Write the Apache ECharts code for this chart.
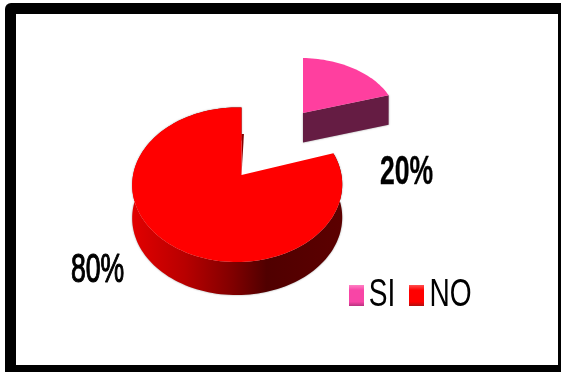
<!DOCTYPE html>
<html>
<head>
<meta charset="utf-8">
<style>html,body{margin:0;padding:0;background:#fff}#chart{width:561px;height:372px}</style>
<script src="https://cdn.jsdelivr.net/npm/echarts@6/dist/echarts.min.js"></script>
</head>
<body>
<div id="chart"></div>
<script>
// Survey answers, as a share of respondents
const categories = ['SI', 'NO'];
const shares = [20, 80];
const colorsTop = ['#FF3F9F', '#FF0000'];

const total = shares.reduce((a, b) => a + b, 0);

// Perspective tilt of the disc
const TILT_FAR = 0.1263, TILT_SIDE = 0.0406;

// Per-slice layout: apex on screen, half-axes, wall depth, label and legend text placement
const layout = {
  SI: { cx: 303, cy: 113, bx: 97, by: 62, depth: 29.5, label: [406.5, 173], weight: 'bold', stroke: 0.3, key: [382, 295] },
  NO: { cx: 241.5, cy: 175, bx: 104, by: 76, depth: 33, label: [97.5, 271], weight: 'normal', stroke: 1.1, key: [450.5, 295] }
};

function project(g, r, deg, drop) {
  const t = deg * Math.PI / 180;
  const u = r * Math.sin(t), v = r * Math.cos(t);
  const w = 1 + TILT_FAR * v + TILT_SIDE * u;
  return [g.cx + g.bx * u / w, g.cy - g.by * v / w + (drop || 0)];
}

function arc(g, from, to, drop) {
  const pts = [];
  const n = Math.ceil(Math.abs(to - from) / 2);
  for (let i = 0; i <= n; i++) pts.push(project(g, 1, from + (to - from) * i / n, drop));
  return pts;
}

const edgeShadow = { shadowBlur: 2, shadowColor: 'rgba(0,0,0,0.4)' };

function polygon(points, fill, extra) {
  return { type: 'polygon', shape: { points }, style: Object.assign({ fill }, extra || {}) };
}

function scaledText(text, pos, scaleX, scaleY, size, weight, stroke) {
  return {
    type: 'text', x: pos[0], y: pos[1], scaleX, scaleY,
    style: {
      text, fontFamily: 'Liberation Sans', fontWeight: weight, fontSize: size,
      fill: '#000', stroke: '#000', lineWidth: stroke, align: 'center', verticalAlign: 'middle'
    }
  };
}

function sliceRenderer(name, startShare) {
  return function (params, api) {
    const g = layout[name];
    const from = startShare / total * 360;
    const to = from + api.value(0) / total * 360;
    const apex = project(g, 0, 0);
    const top = [apex].concat(arc(g, from, to));
    const children = [];
    if (name === 'SI') {
      // Only the cut face toward the viewer shows on the detached slice
      const corner = project(g, 1, to);
      children.push(polygon([apex, corner, project(g, 1, to, g.depth), project(g, 0, 0, g.depth)], '#651C43', edgeShadow));
    } else {
      // Outer wall, lit from the left
      const upper = arc(g, from, to);
      const lower = arc(g, to, from, g.depth);
      children.push(polygon(upper.concat(lower), {
        type: 'linear', x: 0, y: 0, x2: 1, y2: 0,
        colorStops: [
          { offset: 0, color: '#E20000' },
          { offset: 0.25, color: '#B80000' },
          { offset: 0.48, color: '#800000' },
          { offset: 0.64, color: '#500000' },
          { offset: 1, color: '#5C0000' }
        ]
      }, edgeShadow));
      // Sliver of the inner wall along the notch
      children.push(polygon([apex, project(g, 0.58, to), project(g, 0.58, to + 2.5)], '#8A0000'));
    }
    children.push(polygon(top, colorsTop[categories.indexOf(name)]));
    children.push(scaledText(Math.round(api.value(0) / total * 100) + '%', g.label, 0.7, 1.09, 38, g.weight, g.stroke));
    children.push(scaledText(name, g.key, 0.78, 1.09, 36, 'normal', 0));
    return { type: 'group', children };
  };
}

const chart = echarts.init(document.getElementById('chart'), null, { renderer: 'canvas' });

function bevel(light, mid, dark) {
  return {
    type: 'linear', x: 0, y: 0, x2: 0, y2: 1,
    colorStops: [
      { offset: 0, color: light }, { offset: 0.25, color: mid },
      { offset: 0.8, color: mid }, { offset: 1, color: dark }
    ]
  };
}

chart.setOption({
  animation: false,
  backgroundColor: '#fff',
  graphic: {
    elements: [
      { type: 'rect', shape: { x: 5, y: 3, width: 556, height: 369, r: [6, 0, 0, 0] }, style: { fill: '#000' } },
      { type: 'rect', shape: { x: 16, y: 14, width: 542, height: 351 }, style: { fill: '#fff' } }
    ]
  },
  legend: {
    left: 349,
    top: 285,
    padding: 0,
    itemWidth: 15,
    itemHeight: 21,
    itemGap: 45,
    icon: 'rect',
    selectedMode: false,
    formatter: () => '',
    textStyle: { fontSize: 1, padding: 0 },
    data: [
      { name: 'SI', itemStyle: { color: bevel('#FF80C4', '#F845A6', '#B83380') } },
      { name: 'NO', itemStyle: { color: bevel('#FF5050', '#FF0000', '#B01010') } }
    ]
  },
  series: [
    {
      type: 'custom', name: 'NO', coordinateSystem: 'none', silent: true,
      itemStyle: { color: colorsTop[1] },
      renderItem: sliceRenderer('NO', shares[0]),
      data: [[shares[1]]]
    },
    {
      type: 'custom', name: 'SI', coordinateSystem: 'none', silent: true,
      itemStyle: { color: colorsTop[0] },
      renderItem: sliceRenderer('SI', 0),
      data: [[shares[0]]]
    }
  ]
});
</script>
</body>
</html>
